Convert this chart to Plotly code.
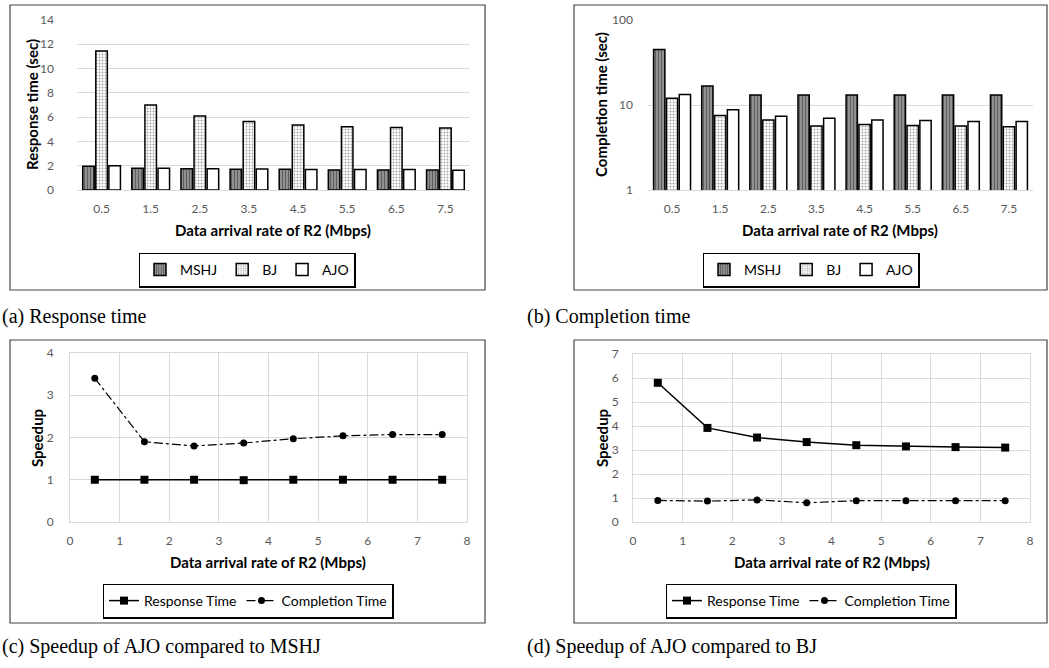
import plotly.graph_objects as go

# ---------------- data ----------------
rates_cat = ["0.5", "1.5", "2.5", "3.5", "4.5", "5.5", "6.5", "7.5"]
rates = [0.5, 1.5, 2.5, 3.5, 4.5, 5.5, 6.5, 7.5]

resp_mshj = [1.95, 1.80, 1.75, 1.70, 1.70, 1.65, 1.65, 1.65]
resp_bj = [11.45, 7.00, 6.10, 5.65, 5.35, 5.20, 5.15, 5.10]
resp_ajo = [2.00, 1.80, 1.75, 1.72, 1.68, 1.68, 1.68, 1.62]

comp_mshj = [45.0, 16.7, 13.1, 13.1, 13.1, 13.1, 13.1, 13.1]
comp_bj = [12.0, 7.5, 6.65, 5.65, 5.9, 5.75, 5.65, 5.55]
comp_ajo = [13.3, 8.8, 7.35, 7.0, 6.65, 6.55, 6.4, 6.4]

sp_mshj_resp = [1.0, 1.0, 1.0, 0.99, 1.0, 1.0, 1.0, 1.0]
sp_mshj_comp = [3.4, 1.9, 1.8, 1.87, 1.97, 2.04, 2.07, 2.07]

sp_bj_resp = [5.8, 3.92, 3.52, 3.33, 3.2, 3.15, 3.12, 3.1]
sp_bj_comp = [0.9, 0.87, 0.92, 0.8, 0.89, 0.89, 0.89, 0.89]

W, H = 1049, 668
def px(x): return x / W
def py(y): return 1 - y / H

FAM = "Lato, Open Sans, sans-serif"
TICK = dict(family=FAM, size=12, color="#595959")
TITLE = dict(family=FAM, size=15, color="#000000")
GRID = "#d9d9d9"

fig = go.Figure()

mshj_marker = dict(color="#9a9a9a", line=dict(color="#000", width=1.5),
                   pattern=dict(shape="|", fgcolor="#222222", bgcolor="#9a9a9a", size=3, solidity=0.45))
bj_marker = dict(color="white", line=dict(color="#000", width=1.5),
                 pattern=dict(shape=".", fgcolor="#444444", bgcolor="white", size=3, solidity=0.3))
ajo_marker = dict(color="white", line=dict(color="#000", width=1.5))

# (a) response time bars
for name, vals, mk in [("MSHJ", resp_mshj, mshj_marker), ("BJ", resp_bj, bj_marker), ("AJO", resp_ajo, ajo_marker)]:
    fig.add_trace(go.Bar(x=rates_cat, y=vals, name=name, marker=mk, xaxis="x", yaxis="y", legend="legend"))
# (b) completion time bars (log)
for name, vals, mk in [("MSHJ", comp_mshj, mshj_marker), ("BJ", comp_bj, bj_marker), ("AJO", comp_ajo, ajo_marker)]:
    fig.add_trace(go.Bar(x=rates_cat, y=vals, name=name, marker=mk, xaxis="x2", yaxis="y2", legend="legend2"))
# (c) speedup vs MSHJ
fig.add_trace(go.Scatter(x=rates, y=sp_mshj_resp, name="Response Time", mode="lines+markers",
                         line=dict(color="#000", width=1.5), marker=dict(symbol="square", size=8, color="#000"),
                         xaxis="x3", yaxis="y3", legend="legend3"))
fig.add_trace(go.Scatter(x=rates, y=sp_mshj_comp, name="Completion Time", mode="lines+markers",
                         line=dict(color="#000", width=1.2, dash="dashdot"), marker=dict(symbol="circle", size=7, color="#000"),
                         xaxis="x3", yaxis="y3", legend="legend3"))
# (d) speedup vs BJ
fig.add_trace(go.Scatter(x=rates, y=sp_bj_resp, name="Response Time", mode="lines+markers",
                         line=dict(color="#000", width=1.5), marker=dict(symbol="square", size=8, color="#000"),
                         xaxis="x4", yaxis="y4", legend="legend4"))
fig.add_trace(go.Scatter(x=rates, y=sp_bj_comp, name="Completion Time", mode="lines+markers",
                         line=dict(color="#000", width=1.2, dash="dashdot"), marker=dict(symbol="circle", size=7, color="#000"),
                         xaxis="x4", yaxis="y4", legend="legend4"))

legend_common = dict(orientation="h", xanchor="center", yanchor="middle", bgcolor="white",
                     bordercolor="#000", borderwidth=1.5, itemwidth=30,
                     font=dict(family=FAM, size=14, color="#000"))

fig.update_layout(
    width=W, height=H, margin=dict(l=0, r=0, t=0, b=0, autoexpand=False),
    paper_bgcolor="white", plot_bgcolor="white",
    barmode="group", bargap=0.2, bargroupgap=0.12,
    xaxis=dict(domain=[px(77), px(470)], anchor="y", tickfont=TICK, showgrid=False, automargin=False,
               showline=True, linecolor=GRID, ticks="", ticklabelstandoff=8),
    yaxis=dict(domain=[py(190), py(20)], anchor="x", range=[0, 14], dtick=2, tickfont=TICK, automargin=False,
               gridcolor=GRID, showline=False, zeroline=False, ticklabelstandoff=22),
    xaxis2=dict(domain=[px(648), px(1033)], anchor="y2", tickfont=TICK, showgrid=False, automargin=False,
                showline=True, linecolor=GRID, ticks="", ticklabelstandoff=8),
    yaxis2=dict(domain=[py(190), py(20)], anchor="x2", type="log", range=[0, 2], dtick=1, tickfont=TICK,
                automargin=False, gridcolor=GRID, showline=False, zeroline=False, ticklabelstandoff=14),
    xaxis3=dict(domain=[px(70), px(467)], anchor="y3", range=[0, 8], dtick=1, tickfont=TICK, automargin=False,
                gridcolor=GRID, showline=True, linecolor=GRID, mirror=True, zeroline=False, ticklabelstandoff=8),
    yaxis3=dict(domain=[py(522), py(353)], anchor="x3", range=[0, 4], dtick=1, tickfont=TICK, automargin=False,
                gridcolor=GRID, showline=True, linecolor=GRID, mirror=True, zeroline=False, ticklabelstandoff=13),
    xaxis4=dict(domain=[px(633), px(1030)], anchor="y4", range=[0, 8], dtick=1, tickfont=TICK, automargin=False,
                gridcolor=GRID, showline=True, linecolor=GRID, mirror=True, zeroline=False, ticklabelstandoff=8),
    yaxis4=dict(domain=[py(522), py(354)], anchor="x4", range=[0, 7], dtick=1, tickfont=TICK, automargin=False,
                gridcolor=GRID, showline=True, linecolor=GRID, mirror=True, zeroline=False, ticklabelstandoff=11),
    legend=dict(legend_common, x=px(247), y=py(270)),
    legend2=dict(legend_common, x=px(811), y=py(270)),
    legend3=dict(legend_common, x=px(248), y=py(601)),
    legend4=dict(legend_common, x=px(811), y=py(601)),
    showlegend=True,
)

# panel boxes
for (x0, y0, x1, y1) in [(10, 5, 485, 290), (574, 5, 1047, 290), (10, 340, 485, 623), (574, 340, 1047, 623)]:
    fig.add_shape(type="rect", xref="paper", yref="paper", x0=px(x0), x1=px(x1), y0=py(y0), y1=py(y1),
                  line=dict(color="#444", width=1.2), fillcolor="rgba(0,0,0,0)", layer="below")

def ann(text, x, y, angle=0, font=TITLE, xanchor="center", bold=True):
    fig.add_annotation(text=("<b>%s</b>" % text) if bold else text, x=px(x), y=py(y), xref="paper", yref="paper",
                       showarrow=False, textangle=angle, font=font, xanchor=xanchor, yanchor="middle")

ann("Data arrival rate of R2 (Mbps)", 273, 230)
ann("Data arrival rate of R2 (Mbps)", 840, 230)
ann("Data arrival rate of R2 (Mbps)", 268, 562)
ann("Data arrival rate of R2 (Mbps)", 832, 562)
ann("Response time (sec)", 32, 105, angle=-90)
ann("Completion time (sec)", 601, 105, angle=-90)
ann("Speedup", 37, 438, angle=-90)
ann("Speedup", 602, 438, angle=-90)

CAP = dict(family="Liberation Serif, Times New Roman, serif", size=20, color="#000")
ann("(a) Response time", 0, 316, font=CAP, xanchor="left", bold=False)
ann("(b) Completion time", 525, 316, font=CAP, xanchor="left", bold=False)
ann("(c) Speedup of AJO compared to MSHJ", 0, 646, font=CAP, xanchor="left", bold=False)
ann("(d) Speedup of AJO compared to BJ", 525, 646, font=CAP, xanchor="left", bold=False)

fig.write_html("out.html", config={"displayModeBar": False},
               post_script="document.body.style.margin='0';document.body.style.padding='0';document.body.style.overflow='hidden';")
